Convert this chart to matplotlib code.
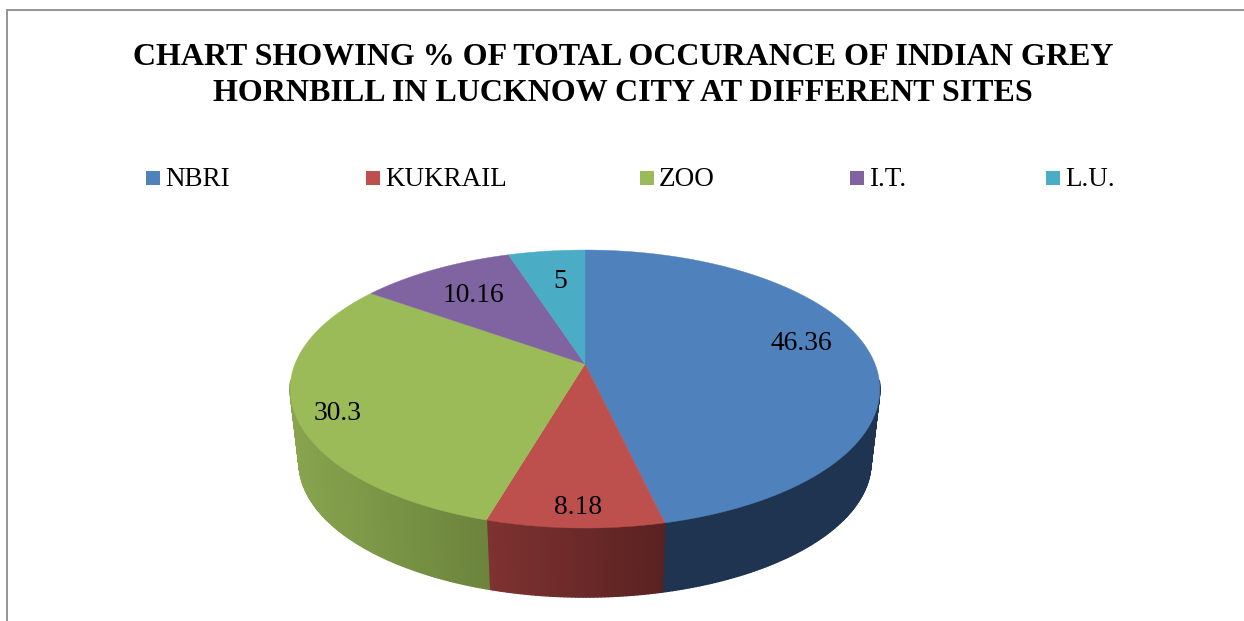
import matplotlib
matplotlib.use('Agg')
import matplotlib.pyplot as plt
from matplotlib.patches import Polygon, Rectangle
from matplotlib.collections import PolyCollection
import numpy as np

plt.rcParams['font.family'] = ['Liberation Serif', 'DejaVu Serif']

sites = ['NBRI', 'KUKRAIL', 'ZOO', 'I.T.', 'L.U.']
values = [46.36, 8.18, 30.3, 10.16, 5]
colors = ['#4f81bd', '#bd4f4c', '#9bbb59', '#8064a2', '#4bacc6']
title = 'CHART SHOWING % OF TOTAL OCCURANCE OF INDIAN GREY\nHORNBILL IN LUCKNOW CITY AT DIFFERENT SITES'

legend_x = [146, 366, 640, 850, 1046]
label_pos = [(801, 343), (578, 508), (338, 413), (473, 296), (560, 282)]
# side shading, colour at left end and right end of the slice
side_left = ['#1f3450', '#7e3231', '#88a44e', '#4d3c62', '#2d6777']
side_right = ['#1f3450', '#592221', '#6b833c', '#4d3c62', '#2d6777']

# perspective of the tilted disc
cx, cy = 585, 364
a, b, k = 290, 134.5, 0.18
cy2, shrink = 438, 0.97


def project(theta, centre=cy, scale=1.0):
    # theta is clockwise from 12 o'clock
    X = np.sin(theta)
    Y = np.cos(theta)
    d = 1 + k * Y
    return cx + scale * a * X / d, centre - scale * b * Y / d


def to_rgb(c):
    return np.array(matplotlib.colors.to_rgb(c))


fig = plt.figure(figsize=(12.44, 6.21), dpi=100)
ax = fig.add_axes([0, 0, 1, 1])
ax.set_xlim(0, 1244)
ax.set_ylim(621, 0)
ax.axis('off')

# chart frame, cut off by the page on right and bottom
ax.plot([7, 7, 1244], [621, 9.5, 9.5], color='#8c8c8c', lw=1.3, solid_joinstyle='miter')

fractions = np.cumsum([0] + values) / sum(values) * 2 * np.pi

# side walls first, only the part facing us so nothing peeks out at the back
for i in range(len(values)):
    th = np.linspace(fractions[i], fractions[i + 1], max(int(values[i] * 6), 4))
    xt, yt = project(th)
    xb, yb = project(th, cy2, shrink)
    quads = []
    cols = []
    left = to_rgb(side_left[i])
    right = to_rgb(side_right[i])
    x0, x1 = min(xt.min(), xb.min()), max(xt.max(), xb.max())
    for j in range(len(th) - 1):
        if np.cos((th[j] + th[j + 1]) / 2) > -0.12:
            continue
        quads.append([(xt[j], yt[j]), (xt[j + 1], yt[j + 1]), (xb[j + 1], yb[j + 1]), (xb[j], yb[j])])
        f = ((xt[j] + xt[j + 1]) / 2 - x0) / (x1 - x0)
        cols.append(left + (right - left) * f)
    if quads:
        ax.add_collection(PolyCollection(quads, facecolors=cols, edgecolors=cols, linewidths=1.0, zorder=2))

# top faces
for i in range(len(values)):
    th = np.linspace(fractions[i], fractions[i + 1], max(int(values[i] * 6), 4))
    xt, yt = project(th)
    pts = [(cx, cy)] + list(zip(xt, yt))
    ax.add_patch(Polygon(pts, closed=True, facecolor=colors[i], edgecolor=colors[i], lw=0.3, zorder=3))
    ax.text(label_pos[i][0], label_pos[i][1], str(values[i]), ha='center', va='center',
            fontsize=19.8, color='black', zorder=4)

ax.text(623, 75.5, title, ha='center', va='center', fontsize=23, fontweight='bold',
        linespacing=1.32, color='black')

# legend
for i in range(len(sites)):
    ax.add_patch(Rectangle((legend_x[i], 171), 14, 14, facecolor=colors[i], edgecolor='none'))
    ax.text(legend_x[i] + 19, 180, sites[i], ha='left', va='center', fontsize=19.5, color='black')

fig.savefig('out.png', dpi=100)
